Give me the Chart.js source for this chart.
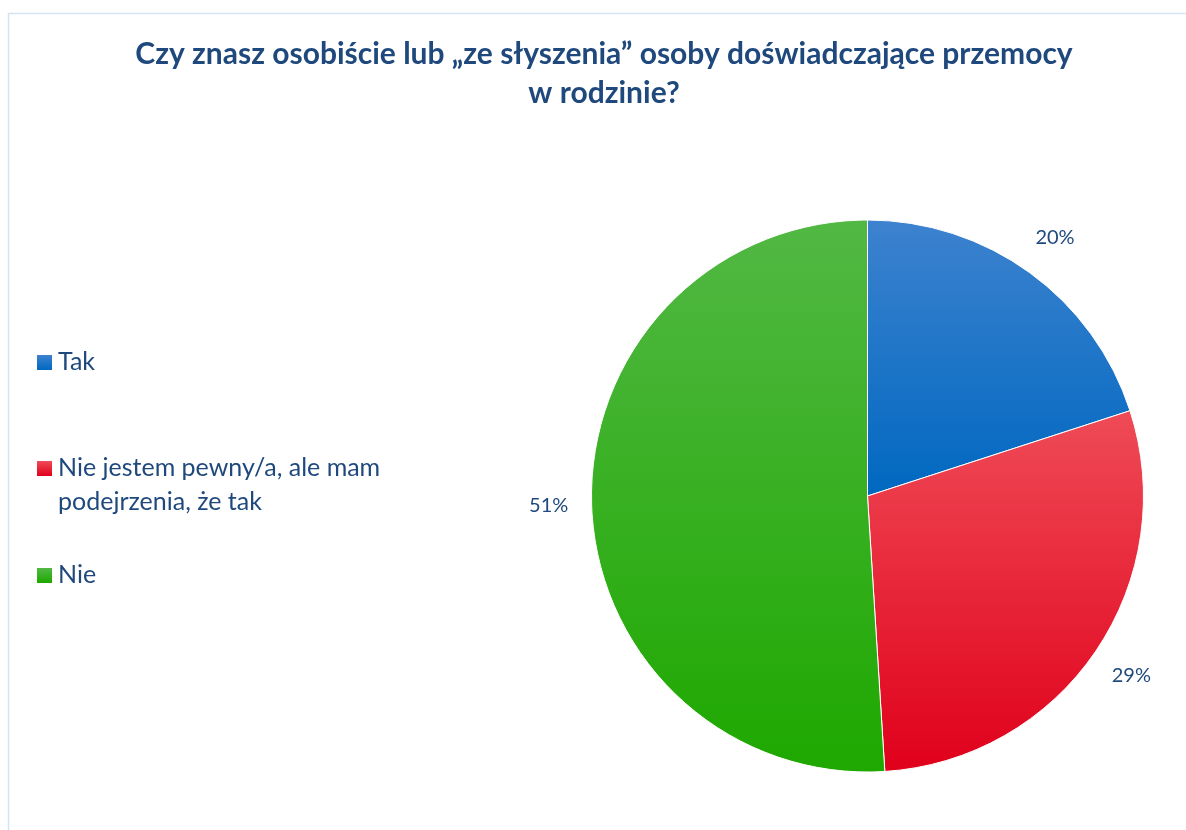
<!DOCTYPE html>
<html>
<head>
<meta charset="utf-8">
<script src="https://cdn.jsdelivr.net/npm/chart.js@4/dist/chart.umd.min.js"></script>
<style>
  html, body { margin: 0; padding: 0; background: #ffffff; }
  #wrap { position: relative; width: 1186px; height: 830px; }
</style>
</head>
<body>
<div id="wrap"><canvas id="c" width="1186" height="830"></canvas></div>
<script>
const titleLines = ['Czy znasz osobiście lub „ze słyszenia” osoby doświadczające przemocy', 'w rodzinie?'];
const categories = ['Tak', 'Nie jestem pewny/a, ale mam podejrzenia, że tak', 'Nie'];
const values = [20, 29, 51];
const valueLabels = ['20%', '29%', '51%'];
const colorsTop = ['#3d82cf', '#ef4b57', '#52b844'];
const colorsBottom = ['#0068c0', '#e0001b', '#1ea800'];

const FONT = 'Lato, "Open Sans", sans-serif';
const TEXT_COLOR = '#1f497d';

function sliceGradient(context) {
  const chart = context.chart;
  const area = chart.chartArea;
  const i = context.dataIndex;
  if (!area || i === undefined) return colorsBottom[i || 0];
  const cx = (area.left + area.right) / 2;
  const cy = (area.top + area.bottom) / 2;
  const r = Math.min(area.width, area.height) / 2;
  const total = values.reduce((a, b) => a + b, 0);
  let before = 0;
  for (let k = 0; k < i; k++) before += values[k];
  const a0 = -Math.PI / 2 + 2 * Math.PI * before / total;
  const a1 = a0 + 2 * Math.PI * values[i] / total;
  let ys = [cy, cy + r * Math.sin(a0), cy + r * Math.sin(a1)];
  [-Math.PI / 2, Math.PI / 2, 3 * Math.PI / 2].forEach(a => {
    if (a >= a0 && a <= a1) ys.push(cy + r * Math.sin(a));
  });
  const y0 = Math.min(...ys), y1 = Math.max(...ys);
  const g = chart.ctx.createLinearGradient(0, y0, 0, y1);
  g.addColorStop(0, colorsTop[i]);
  g.addColorStop(1, colorsBottom[i]);
  return g;
}

function wrapText(ctx, text, maxWidth) {
  const words = text.split(' ');
  const lines = [];
  let cur = '';
  words.forEach(w => {
    const test = cur ? cur + ' ' + w : w;
    if (ctx.measureText(test).width > maxWidth && cur) {
      lines.push(cur);
      cur = w;
    } else cur = test;
  });
  if (cur) lines.push(cur);
  return lines;
}

const framePlugin = {
  id: 'frame',
  beforeDraw(chart) {
    const ctx = chart.ctx;
    ctx.save();
    ctx.strokeStyle = '#d5e2f2';
    ctx.lineWidth = 1.5;
    ctx.strokeRect(8.5, 13.5, 1250, 900);
    ctx.restore();
  }
};

const topTitle = {
  id: 'topTitle',
  afterDraw(chart) {
    const ctx = chart.ctx;
    ctx.save();
    ctx.font = 'bold 30px ' + FONT;
    ctx.fillStyle = TEXT_COLOR;
    ctx.textAlign = 'center';
    ctx.textBaseline = 'alphabetic';
    const baselines = [64, 103];
    titleLines.forEach((ln, j) => ctx.fillText(ln, 604, baselines[j]));
    ctx.restore();
  }
};

const sideLegend = {
  id: 'sideLegend',
  afterDraw(chart) {
    const ctx = chart.ctx;
    ctx.save();
    ctx.font = '25px ' + FONT;
    ctx.fillStyle = TEXT_COLOR;
    ctx.textBaseline = 'middle';
    const ys = [362, 468, 575];
    categories.forEach((label, i) => {
      const y = ys[i];
      const g = ctx.createLinearGradient(0, y - 7, 0, y + 8);
      g.addColorStop(0, colorsTop[i]);
      g.addColorStop(1, colorsBottom[i]);
      ctx.fillStyle = g;
      ctx.fillRect(37, y - 7, 15, 15);
      ctx.fillStyle = TEXT_COLOR;
      const lines = wrapText(ctx, label, 360);
      lines.forEach((ln, j) => ctx.fillText(ln, 58, y + j * 34));
    });
    ctx.restore();
  }
};

const outsideLabels = {
  id: 'outsideLabels',
  afterDatasetsDraw(chart) {
    const ctx = chart.ctx;
    const meta = chart.getDatasetMeta(0);
    ctx.save();
    ctx.font = '20px ' + FONT;
    ctx.fillStyle = TEXT_COLOR;
    ctx.textAlign = 'center';
    ctx.textBaseline = 'middle';
    meta.data.forEach((arc, i) => {
      const p = arc.getProps(['x', 'y', 'startAngle', 'endAngle', 'outerRadius'], true);
      const mid = (p.startAngle + p.endAngle) / 2;
      const d = p.outerRadius + 43;
      ctx.fillText(valueLabels[i], p.x + d * Math.cos(mid), p.y + d * Math.sin(mid));
    });
    ctx.restore();
  }
};

new Chart(document.getElementById('c'), {
  type: 'pie',
  data: {
    labels: categories,
    datasets: [{
      data: values,
      backgroundColor: sliceGradient,
      borderColor: '#ffffff',
      borderWidth: 1
    }]
  },
  options: {
    responsive: false,
    animation: false,
    layout: { padding: { left: 591, right: 42, top: 219, bottom: 57 } },
    plugins: {
      legend: { display: false },
      tooltip: { enabled: false },
      title: { display: false }
    }
  },
  plugins: [framePlugin, topTitle, sideLegend, outsideLabels]
});
</script>
</body>
</html>
